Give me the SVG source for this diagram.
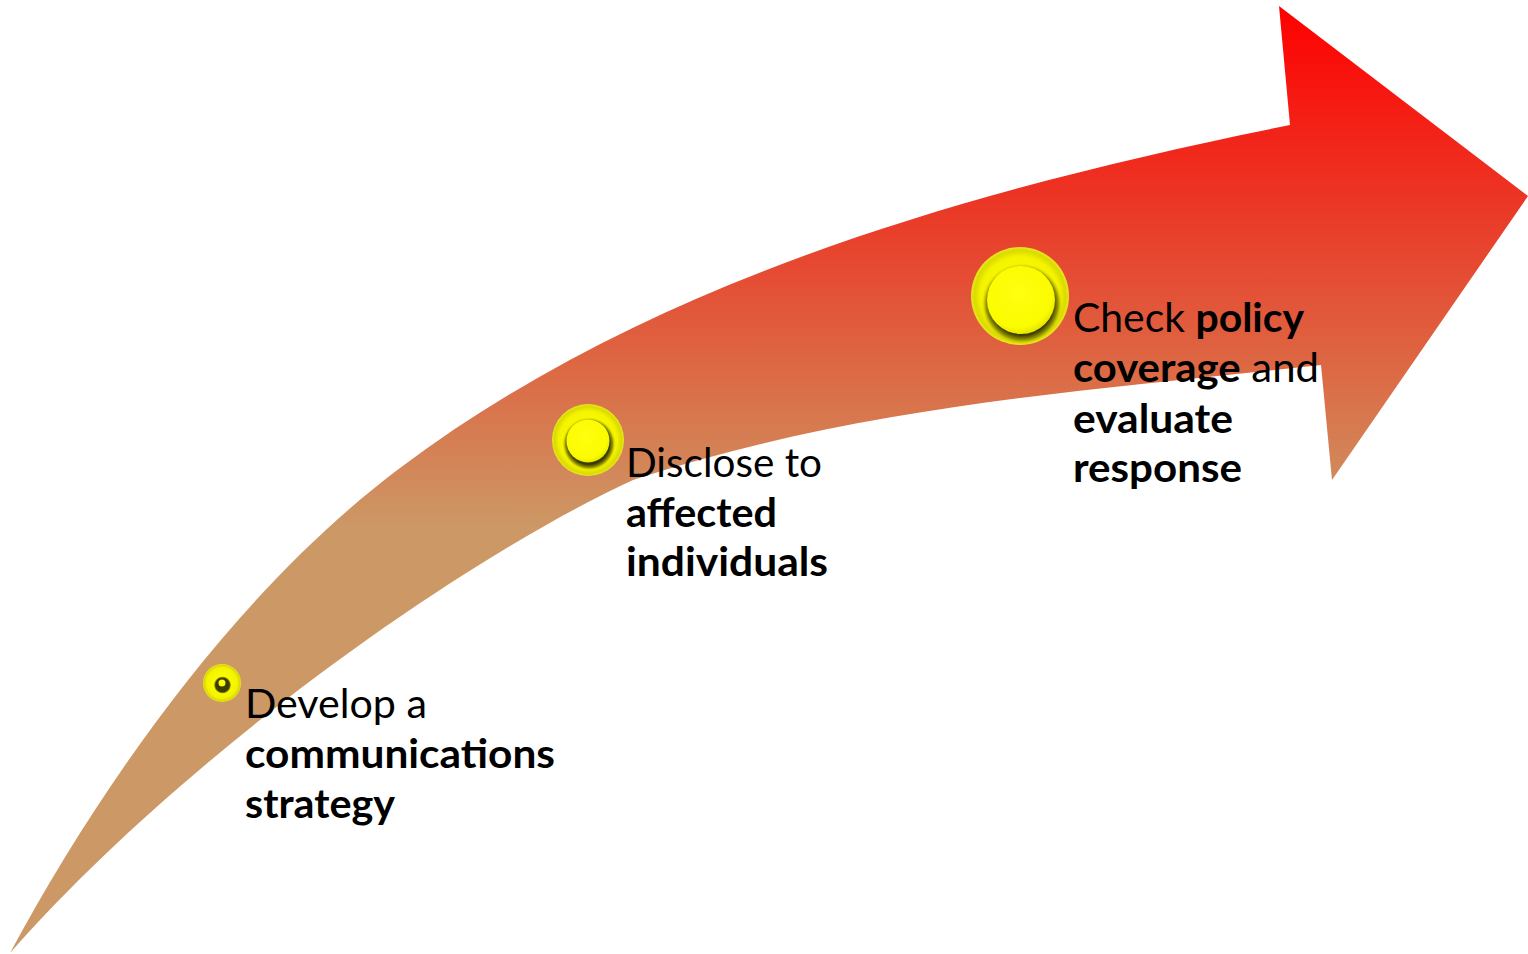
<svg xmlns="http://www.w3.org/2000/svg" width="1528" height="954" viewBox="0 0 1528 954">
<defs>
<linearGradient id="arrowGrad" gradientUnits="userSpaceOnUse" x1="0" y1="6" x2="0" y2="530">
<stop offset="0" stop-color="#FF0000"/>
<stop offset="0.4" stop-color="#EA3A28"/>
<stop offset="0.7" stop-color="#DC6A45"/>
<stop offset="1" stop-color="#CC9966"/>
</linearGradient>
<radialGradient id="outerGrad" cx="0.5" cy="0.5" r="0.5">
<stop offset="0" stop-color="#FFFF00"/>
<stop offset="0.8" stop-color="#F4F400"/>
<stop offset="0.93" stop-color="#DADA00"/>
<stop offset="1" stop-color="#E8E820"/>
</radialGradient>
<radialGradient id="shadowGrad" cx="0.5" cy="0.5" r="0.5">
<stop offset="0.76" stop-color="#3C3C00"/>
<stop offset="0.88" stop-color="#9A9A00"/>
<stop offset="1" stop-color="#F4F400" stop-opacity="0"/>
</radialGradient>
<radialGradient id="innerGrad" cx="0.45" cy="0.4" r="0.6">
<stop offset="0" stop-color="#FFFF10"/>
<stop offset="0.85" stop-color="#FBFB00"/>
<stop offset="1" stop-color="#E6E600"/>
</radialGradient>
</defs>
<style>
.outer{fill:url(#outerGrad);}
.shadow{fill:url(#shadowGrad);}
.inner{fill:url(#innerGrad);}
.lbl{font-family:Lato,"Liberation Sans",sans-serif;font-size:40px;fill:#000000;}
.b{font-weight:bold;}
</style>
<g id="arrow">
<path d="M 10 953 C 105 777 240 588 400 468 C 650 280 976 188 1290 125 L 1279 6 L 1528 196 L 1332 480 L 1321 365 C 1089 390 854 407 633 480 C 460 560 185 755 10 953 Z" fill="url(#arrowGrad)"/>
</g>
<g id="connectors"></g>
<g id="step1">
<circle class="outer" cx="222" cy="683" r="19"/>
<circle class="shadow" cx="222.5" cy="685" r="9"/>
<circle class="inner" cx="222" cy="683" r="3.5"/>
<text class="lbl" textLength="182" lengthAdjust="spacingAndGlyphs" x="245" y="718">Develop a</text>
<text class="lbl b" textLength="310" lengthAdjust="spacingAndGlyphs" x="245" y="768">communications</text>
<text class="lbl b" textLength="150" lengthAdjust="spacingAndGlyphs" x="245" y="818">strategy</text>
</g>
<g id="step2">
<circle class="outer" cx="588" cy="440" r="36"/>
<circle class="shadow" cx="589" cy="444" r="27"/>
<circle class="inner" cx="588" cy="441" r="21.5"/>
<text class="lbl" textLength="196" lengthAdjust="spacingAndGlyphs" x="626" y="477">Disclose to</text>
<text class="lbl b" textLength="151" lengthAdjust="spacingAndGlyphs" x="626" y="527">affected</text>
<text class="lbl b" textLength="202" lengthAdjust="spacingAndGlyphs" x="626" y="576">individuals</text>
</g>
<g id="step3">
<circle class="outer" cx="1020" cy="296" r="49"/>
<circle class="shadow" cx="1022" cy="304" r="41"/>
<circle class="inner" cx="1021" cy="300" r="34"/>
<text class="lbl" textLength="231" lengthAdjust="spacingAndGlyphs" x="1073" y="332">Check <tspan class="b">policy</tspan></text>
<text class="lbl" textLength="246" lengthAdjust="spacingAndGlyphs" x="1073" y="382"><tspan class="b">coverage</tspan> and</text>
<text class="lbl b" textLength="160" lengthAdjust="spacingAndGlyphs" x="1073" y="433">evaluate</text>
<text class="lbl b" textLength="169" lengthAdjust="spacingAndGlyphs" x="1073" y="482">response</text>
</g>
</svg>
